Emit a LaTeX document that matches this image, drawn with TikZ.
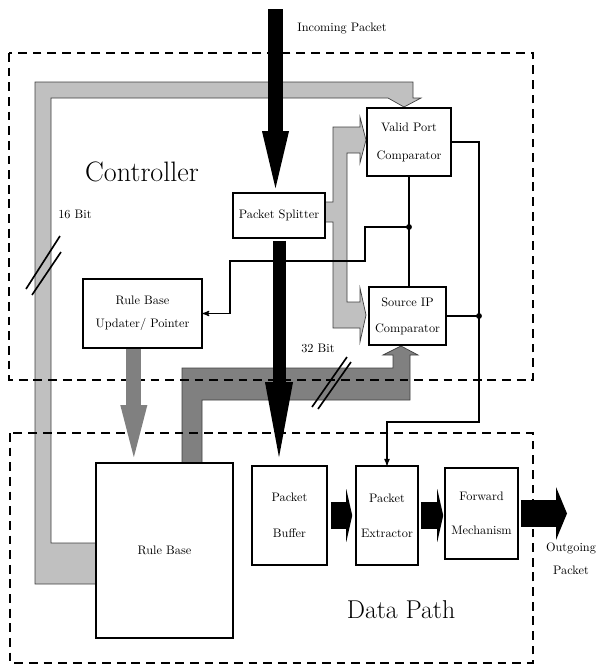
\documentclass[tikz,border=0pt]{standalone}
\usepackage{fontspec}
\usepackage{xcolor}
\usepackage{tikz}
\usetikzlibrary{arrows}
\usetikzlibrary{arrows.meta}
\definecolor{bus_light}{HTML}{C0C0C0}
\definecolor{bus_dark}{HTML}{808080}
\tikzset{
    tnode/.style = {align=center, inner sep=0pt, text centered, font=\fontsize{10.5}{13}\selectfont},
    title/.style = {tnode, font=\fontsize{22}{26}\selectfont},
    block/.style = {tnode, rectangle, draw=black, line width=1.3pt, fill=white},
    region/.style = {draw=black, line width=1.5pt, dash pattern=on 7.5pt off 5pt},
    wire/.style = {draw=black, line width=1pt},
    joint/.style = {circle, fill=black, inner sep=0pt, minimum size=5pt},
    bus/.style = {draw=black!75, line width=0.6pt},
    slash/.style = {draw=black, line width=1.4pt},
    in_flow/.style = {draw=black, line width=0.45cm, -{Triangle[width=0.81cm, length=1.71cm, line width=0pt]}},
    down_flow/.style = {draw=black, line width=0.39cm, -{Triangle[width=0.84cm, length=2.25cm, line width=0pt]}},
    gray_flow/.style = {draw=bus_dark, line width=0.45cm, -{Triangle[width=0.81cm, length=1.56cm, line width=0pt]}},
    data_flow/.style = {draw=black, line width=0.81cm, -{Triangle[width=1.59cm, length=#1, line width=0pt]}},
    data_flow/.default = 0.18cm
}

\begin{document}
\begin{tikzpicture}[x=0.03cm, y=-0.03cm, >=stealth']
    \useasboundingbox (0,0) rectangle (599,666);

    % buses
    \filldraw[bus, fill=bus_light] (96,543) -- (51,543) -- (51,98) -- (388,98) -- (404,107) -- (421,98)
        -- (413,98) -- (413,82) -- (35,82) -- (35,584) -- (96,584);
    \filldraw[bus, fill=bus_light] (325,202) -- (333,202) -- (333,127) -- (360,127) -- (360,117) -- (366,140)
        -- (360,163) -- (360,153) -- (347,153) -- (347,302) -- (360,302) -- (360,288) -- (366,315)
        -- (360,342) -- (360,328) -- (333,328) -- (333,222) -- (325,222);
    \filldraw[bus, fill=bus_dark] (182,463) -- (182,368) -- (393,368) -- (393,355) -- (383,355) -- (401,346)
        -- (418,355) -- (410,355) -- (410,400) -- (202,400) -- (202,463);

    % controller / data path
    \draw[region] (9,53) rectangle (533,380);
    \draw[region] (10,433) rectangle (533,663);

    \node[block, minimum width=2.76cm, minimum height=1.35cm] (split) at (279,215.5) {Packet Splitter};
    \node[block, minimum width=2.52cm, minimum height=2.04cm] (vp) at (409,142) {Valid Port\\[11pt]Comparator};
    \node[block, minimum width=2.31cm, minimum height=1.74cm] (sip) at (407.5,316) {Source IP\\[9pt]Comparator};
    \node[block, minimum width=3.57cm, minimum height=2.07cm] (upd) at (142.5,313.5) {Rule Base\\[7pt]Updater/ Pointer};
    \node[block, minimum width=4.11cm, minimum height=5.25cm] (rb) at (164.5,550.5) {Rule Base};
    \node[block, minimum width=2.25cm, minimum height=2.97cm] (pb) at (289.5,515.5) {Packet\\[18pt]Buffer};
    \node[block, minimum width=1.86cm, minimum height=2.97cm] (pe) at (387,515.5) {Packet\\[17pt]Extractor};
    \node[block, minimum width=2.19cm, minimum height=2.73cm] (fw) at (481.5,513.5) {Forward\\[16pt]Mechanism};

    \node[title, font=\fontsize{24}{28}\selectfont] (ctrl_label) at (142,172) {Controller};
    \node[title] (dp_label) at (401,610) {Data Path};
    \node[tnode] (in_label) at (342,28) {Incoming Packet};
    \node[tnode] (out_label) at (571,559) {Outgoing\\[7pt]Packet};
    \node[tnode] (bits16) at (75,214) {16 Bit};
    \node[tnode] (bits32) at (318,348) {32 Bit};

    % packet flow
    \coordinate (pkt_in) at (275.5,9);
    \coordinate (pkt_out) at (567,513.5);
    \coordinate (upd_out) at ([xshift=-0.26cm]upd.south);
    \draw[in_flow, shorten >=0.12cm] (pkt_in) -- (pkt_in |- split.north);
    \draw[down_flow, shorten <=0.06cm, shorten >=0.24cm] (split.south) -- (split.south |- pb.north);
    \draw[gray_flow, shorten >=0.15cm] (upd_out) -- (upd_out |- rb.north);
    \draw[data_flow, shorten <=0.09cm, shorten >=0.09cm] (pb.east) -- (pe.west);
    \draw[data_flow, shorten <=0.06cm, shorten >=0.03cm] (pe.east) -- (pe.east -| fw.west);
    \draw[data_flow=0.33cm, shorten <=0.06cm] (fw.east) -- (pkt_out);

    % control wires
    \coordinate (rail) at (479,422);
    \coordinate (tap_y) at (0,227);
    \draw[wire, ->] (vp.east) -| (rail) -- (rail -| pe.north) -- (pe.north);
    \node[joint] (rail_dot) at (sip.east -| rail) {};
    \draw[wire] (sip.east) -- (rail_dot.center);
    \draw[wire] (vp.south) -- (vp.south |- sip.north);
    \node[joint] (tap) at (vp.south |- tap_y) {};
    \draw[wire, ->] (tap.center) -- ++(-44,0) |- (230,261) |- (upd.east);

    % bus widths
    \draw[slash] (26,289) -- (60,236);
    \draw[slash] (32,295) -- (61,252);
    \draw[slash] (312,407) -- (347,357);
    \draw[slash] (318,409) -- (351,362);
\end{tikzpicture}
\end{document}
